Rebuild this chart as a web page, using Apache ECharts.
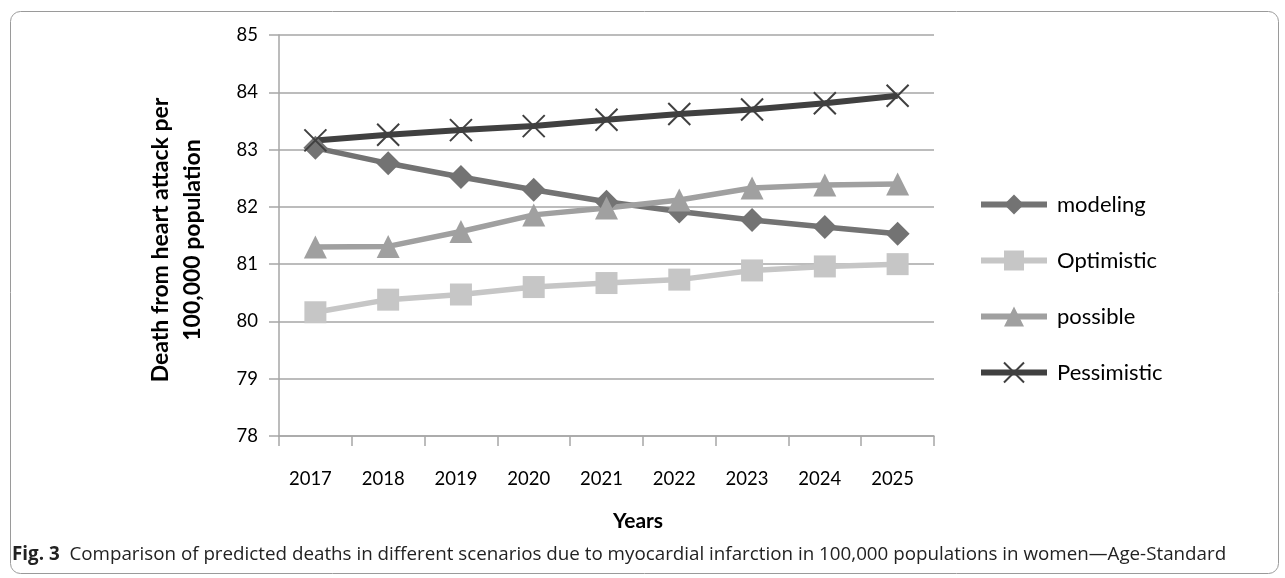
<!DOCTYPE html>
<html><head><meta charset="utf-8">
<script src="https://cdn.jsdelivr.net/npm/echarts@6/dist/echarts.min.js"></script>
<style>html,body{margin:0;padding:0;background:#fff}#c{width:1285px;height:578px}</style>
</head><body><div id="c"></div>
<script>
const years = ['2017','2018','2019','2020','2021','2022','2023','2024','2025'];
const modeling = [83.03, 82.76, 82.52, 82.30, 82.09, 81.92, 81.77, 81.65, 81.53];
const optimistic = [80.16, 80.38, 80.47, 80.60, 80.67, 80.73, 80.89, 80.96, 81.00];
const possible = [81.30, 81.31, 81.57, 81.86, 81.98, 82.12, 82.33, 82.38, 82.40];
const pessimistic = [83.16, 83.26, 83.34, 83.41, 83.52, 83.62, 83.70, 83.81, 83.94];
const yTitle = 'Death from heart attack per\n100,000 population';
const xTitle = 'Years';
const captionBold = 'Fig. 3';
const captionText = 'Comparison of predicted deaths in different scenarios due to myocardial infarction in 100,000 populations in women\u2014Age-Standard';

const FONT = 'Lato';
const gridCol = '#a6a6a6';
const crossPath = 'path://M0,0L10,10M10,0L0,10';

function mk(name, data, color, symbol, size, width, extra) {
  return Object.assign({
    name, type: 'line', data, symbol, symbolSize: size,
    lineStyle: {color, width},
    itemStyle: {color},
    animation: false
  }, extra || {});
}

const chart = echarts.init(document.getElementById('c'), null, {renderer: 'canvas'});
chart.setOption({
  animation: false,
  textStyle: {fontFamily: FONT},
  grid: {left: 279, right: 351, top: 35, bottom: 142},
  legend: {
    orient: 'vertical', left: 978, top: 192, padding: 0,
    itemWidth: 66, itemHeight: 25, itemGap: 31,
    lineStyle: {width: 6},
    textStyle: {fontSize: 22, lineHeight: 25, color: '#000', fontFamily: FONT, padding: [0, 0, 0, 5]},
    data: ['modeling', 'Optimistic', 'possible', 'Pessimistic']
  },
  xAxis: {
    type: 'category', data: years, boundaryGap: true,
    axisLine: {lineStyle: {color: gridCol, width: 1.5}},
    axisTick: {show: true, length: 10, lineStyle: {color: gridCol, width: 1.5}},
    axisLabel: {margin: 34, fontSize: 18.5, color: '#000', fontFamily: FONT, padding: [0, 10, 0, 0]},
    name: xTitle, nameLocation: 'middle', nameGap: 75,
    nameTextStyle: {fontSize: 21, fontWeight: 'bold', color: '#000', fontFamily: FONT, padding: [0, 0, 0, 63]}
  },
  yAxis: {
    type: 'value', min: 78, max: 85, interval: 1,
    axisLine: {show: true, lineStyle: {color: gridCol, width: 1.5}},
    axisTick: {show: true, length: 10, lineStyle: {color: gridCol, width: 1.5}},
    splitLine: {lineStyle: {color: gridCol, width: 1.5}},
    axisLabel: {margin: 21, fontSize: 18.5, color: '#000', fontFamily: FONT},
    name: yTitle, nameLocation: 'middle', nameGap: 70,
    nameTextStyle: {fontSize: 23, fontWeight: 'bold', color: '#000', fontFamily: FONT, lineHeight: 32, padding: [0, 9, 0, 0]}
  },
  series: [
    mk('modeling', modeling, '#737373', 'diamond', 24, 5.5),
    mk('Optimistic', optimistic, '#c6c6c6', 'rect', 22, 5.5),
    mk('possible', possible, '#a0a0a0', 'triangle', 23, 5.5),
    mk('Pessimistic', pessimistic, '#404040', crossPath, 22, 6, {
      itemStyle: {color: 'rgba(0,0,0,0)', borderColor: '#404040', borderWidth: 2}
    })
  ],
  graphic: [
    {type: 'rect', left: 8, top: 9, shape: {width: 1268, height: 562, r: 10},
     style: {fill: 'none', stroke: '#9a9a9a', lineWidth: 1}, z: -1},
    {type: 'text', left: 12, top: 545,
     style: {text: '{b|' + captionBold + '}  ' + captionText, fontSize: 18.8, fontFamily: 'Open Sans', fill: '#222',
       rich: {b: {fontWeight: 'bold', fontSize: 18.8, fontFamily: 'Open Sans', fill: '#222'}}}}
  ]
});
</script></body></html>
